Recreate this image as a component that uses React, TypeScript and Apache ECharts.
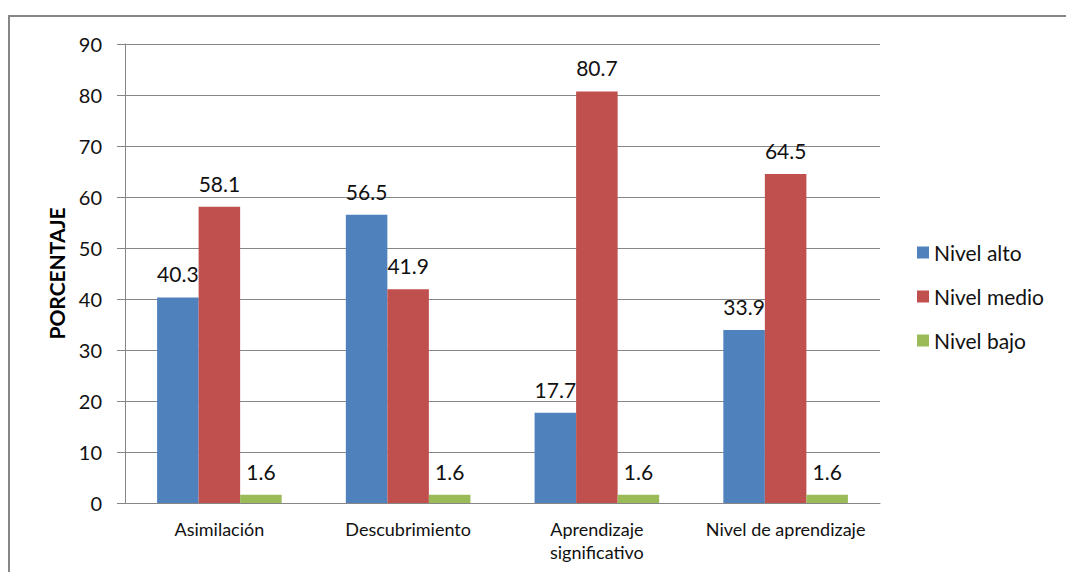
import React, { useEffect, useRef } from "react";
import * as echarts from "echarts";

const categories = ["Asimilación", "Descubrimiento", "Aprendizaje\nsignificativo", "Nivel de aprendizaje"];
const seriesNames = ["Nivel alto", "Nivel medio", "Nivel bajo"];
const nivelAlto = [40.3, 56.5, 17.7, 33.9];
const nivelMedio = [58.1, 41.9, 80.7, 64.5];
const nivelBajo = [1.6, 1.6, 1.6, 1.6];
const colors = ["#4F81BD", "#C0504D", "#9BBB59"];
const yTicks = { min: 0, max: 90, interval: 10 };

const FONT = "Lato, 'Open Sans', sans-serif";

export default function App() {
  const ref = useRef<HTMLDivElement>(null);
  useEffect(() => {
    if (!ref.current) return;
    const chart = echarts.init(ref.current, null, { renderer: "svg" });
    const values = [nivelAlto, nivelMedio, nivelBajo];
    chart.setOption({
      animation: false,
      textStyle: { fontFamily: FONT },
      graphic: [
        {
          type: "rect",
          shape: { x: 9, y: 16, width: 1200, height: 700 },
          style: { fill: "none", stroke: "#868686", lineWidth: 2 },
          silent: true,
        },
      ],
      grid: { left: 125, right: 186, top: 44, bottom: 69 },
      legend: {
        orient: "vertical",
        left: 912,
        top: 237,
        itemWidth: 12,
        itemHeight: 12,
        itemGap: 23,
        icon: "rect",
        textStyle: { fontSize: 21, color: "#111", fontFamily: FONT },
        data: seriesNames,
      },
      xAxis: {
        type: "category",
        data: categories,
        axisLine: { show: true, lineStyle: { color: "#868686", width: 1 } },
        axisTick: { show: false },
        axisLabel: { fontSize: 18, color: "#111", margin: 14, lineHeight: 23, interval: 0, fontFamily: FONT },
      },
      yAxis: {
        type: "value",
        min: yTicks.min,
        max: yTicks.max,
        interval: yTicks.interval,
        name: "PORCENTAJE",
        nameLocation: "middle",
        nameGap: 58,
        nameRotate: 90,
        nameTextStyle: { fontSize: 21, fontWeight: "bold", color: "#000", fontFamily: FONT },
        axisLine: { show: true, lineStyle: { color: "#868686", width: 1 } },
        axisTick: { show: true, length: 8, lineStyle: { color: "#868686" } },
        axisLabel: { fontSize: 20, color: "#111", margin: 23, fontFamily: FONT },
        splitLine: { show: true, lineStyle: { color: "#868686", width: 1 } },
      },
      series: seriesNames.map((name, i) => ({
        name,
        type: "bar",
        data: values[i],
        barGap: "0%",
        barCategoryGap: "34%",
        itemStyle: { color: colors[i] },
        label: {
          show: true,
          position: "top",
          distance: 13,
          fontSize: 21,
          color: "#111",
          fontFamily: FONT,
        },
      })),
    });
    return () => chart.dispose();
  }, []);
  return (
    <div
      ref={ref}
      style={{ position: "absolute", left: 0, top: 0, width: 1066, height: 572, background: "#fff" }}
    />
  );
}
